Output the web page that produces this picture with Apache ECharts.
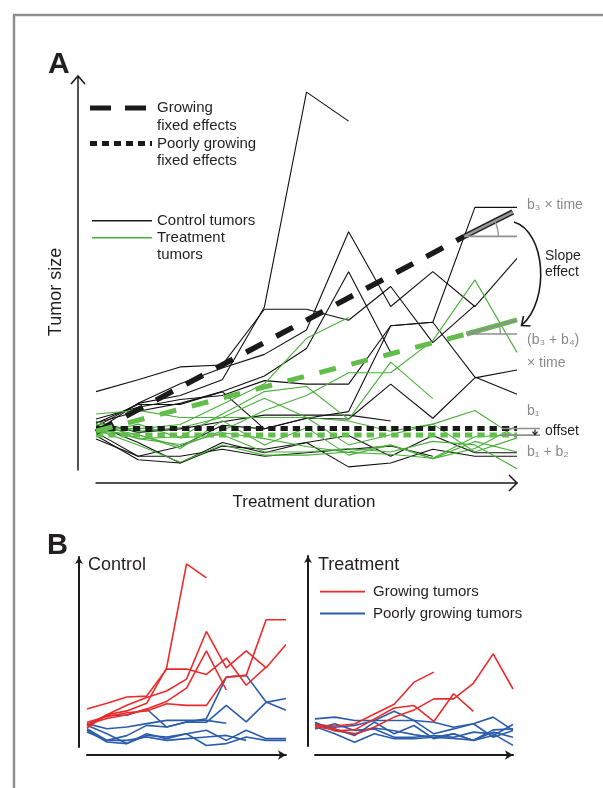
<!DOCTYPE html>
<html><head><meta charset="utf-8">
<script src="https://cdn.jsdelivr.net/npm/echarts@6/dist/echarts.min.js"></script>
<style>html,body{margin:0;padding:0;background:#fff}#c{width:603px;height:788px}</style>
</head><body><div id="c"></div>
<script>
// ---------- data (tumor size, arbitrary units 0-100, at 11 time points) ----------
const timePoints = [0,1,2,3,4,5,6,7,8,9,10];

// Control tumors (black in A), split into growing (red in B) / poorly growing (blue in B)
const ctrlGrowing1 = [11, 17, 19, 23, 41.6, 96.4, 89, null, null, null, null];
const ctrlGrowing2 = [13, 16, 18, 19, 22.8, 21.9, 21.9, 36.8, 37.7, 67, 67];
const ctrlGrowing3 = [10, 17, 22, 26, 29.5, 35.7, 60.8, 41.7, 50.6, 41.7, 54];
const ctrlGrowing4 = [12, 15, 17, 20, 24, 31, 50.6, 30, null, null, null];
const ctrlGrowing5 = [20, 23, 26.3, 26.8, 41, 41, 38.2, 46.8, 32.5, 42, null];
const ctrlPoor1 = [12.3, 9.6, 10.5, 12.3, 14, 14, 14, 12.5, null, null, null];
const ctrlPoor2 = [11.9, 16.7, 16.7, 20, 10.5, 13.2, 14.9, 36.8, 37.7, 23.7, 19.3];
const ctrlPoor3 = [9.6, 3.5, 6, 11.4, 10.5, 13.2, 13, 21.9, 13.2, 23.5, 25.5];
const ctrlPoor4 = [8.8, 2.6, 1.8, 6.1, 5.3, 7, 8.8, 3.5, 8.8, 4.4, 4.4];
const ctrlPoor5 = [11.4, 7, 1.8, 7, 4.4, 7, 0.8, 1.8, 5.3, 3.5, 3.5];
const ctrlPoor6 = [7.9, 3.5, 3.5, 5.3, 3.5, 4.4, 5.3, 6.1, 3.5, null, null];

// Treatment tumors (green in A)
const trtGrowing1 = [11, 10.5, 11.6, 16.8, 22, 33.6, 38.9, null, null, null, null];
const trtGrowing2 = [11, 8, 8.5, 14.3, 20, 21.3, 12.9, 27.5, 18.2, null, null];
const trtGrowing3 = [10, 9, 6, 10, 15.2, 19, 24.8, 24.8, 33, 48.5, 30];
const trtPoor1 = [14.3, 15.2, 13.4, 13.4, 13.4, 13.4, 12.5, 9.9, 11.7, 15.2, 8.2];
const trtPoor2 = [11.7, 9.9, 10.8, 13.4, 18.3, 13.4, 6.4, 9, 11.7, 4.6, 8.2];
const trtPoor3 = [11.3, 9, 5.5, 12.6, 6.4, 10.8, 3.8, 6.4, 2.9, 5.5, 11.3];
const trtPoor4 = [10.3, 6.4, 2, 6.4, 3.8, 3.8, 4.6, 6.4, 2.9, 7.3, 4.6];
const trtPoor5 = [9, 11.7, 8.2, 9, 4.6, 4.6, 5.5, 4.6, 7.3, 6.4, 0.3];
const trtPoor6 = [12.5, 8, 6.5, 9.5, 8, 6, 4.5, 4, 3, 8.5, 9];

// Fixed effects ([time, size] end points)
const growingFixedCtrl = [[0, 9.7], [8.75, 59.6]];
const growingSlopeCtrl = [[8.75, 59.6], [9.9, 65.8]];
const growingFixedTrt  = [[0, 9.9], [8.8, 34.7]];
const growingSlopeTrt  = [[8.8, 34.7], [10, 38.3]];
const poorFixedCtrl    = [[0, 10.6], [10, 10.6]];
const poorFixedTrt     = [[0, 8.9], [10, 8.9]];

const ctrlGrowing = [ctrlGrowing1, ctrlGrowing2, ctrlGrowing3, ctrlGrowing4, ctrlGrowing5];
const ctrlPoor = [ctrlPoor1, ctrlPoor2, ctrlPoor3, ctrlPoor4, ctrlPoor5, ctrlPoor6];
const trtGrowing = [trtGrowing1, trtGrowing2, trtGrowing3];
const trtPoor = [trtPoor1, trtPoor2, trtPoor3, trtPoor4, trtPoor5, trtPoor6];

// ---------- styling ----------
const FONT = '"Liberation Sans", Arial, Helvetica, sans-serif';
const TXT = '#231f20';
const GRAY = '#8a8a8a';
const BLACK = '#111111';
const GREEN = '#4aaf3a';
const GREEN_THICK = '#62bd4c';
const RED = '#ec2b2b';
const BLUE = '#2c5dab';

function toXY(arr) {
  const out = [];
  arr.forEach((v, i) => { if (v != null) out.push([timePoints[i], v]); });
  return out;
}
function lineSeries(arr, g, color, width, z, extra) {
  return Object.assign({
    type: 'line', xAxisIndex: g, yAxisIndex: g, data: toXY(arr),
    symbol: 'none', silent: true, animation: false, z: z || 2,
    lineStyle: { color: color, width: width }
  }, extra || {});
}
function segSeries(pts, g, lineStyle, z) {
  return { type: 'line', xAxisIndex: g, yAxisIndex: g, data: pts, symbol: 'none',
    silent: true, animation: false, z: z, lineStyle: lineStyle };
}

const series = [];
// Panel A
ctrlGrowing.concat(ctrlPoor).forEach(a => series.push(lineSeries(a, 0, BLACK, 1.1, 2)));
trtGrowing.concat(trtPoor).forEach(a => series.push(lineSeries(a, 0, GREEN, 1.1, 3)));
series.push(segSeries(poorFixedCtrl, 0, { color: '#1a1a1a', width: 5, type: [7.3, 5] }, 6));
series.push(segSeries(poorFixedTrt, 0, { color: GREEN_THICK, width: 5, type: [7.3, 5] }, 6));
series.push(segSeries(growingFixedCtrl, 0, { color: '#1a1a1a', width: 5.5, type: [19, 15] }, 7));
series.push(segSeries(growingFixedTrt, 0, { color: GREEN_THICK, width: 5, type: [17, 16] }, 7));
// slope glyphs
series.push(segSeries(growingSlopeCtrl, 0, { color: '#222', width: 5.5 }, 8));
series.push(segSeries(growingSlopeCtrl, 0, { color: '#9a9a9a', width: 2.5 }, 9));
series.push(segSeries(growingSlopeTrt, 0, { color: GREEN_THICK, width: 5 }, 8));
series.push(segSeries(growingSlopeTrt, 0, { color: '#8f8f8f', width: 2 }, 9));
// Panel B control
ctrlPoor.forEach(a => series.push(lineSeries(a, 1, BLUE, 1.6, 2)));
ctrlGrowing.forEach(a => series.push(lineSeries(a, 1, RED, 1.6, 3)));
// Panel B treatment
trtPoor.forEach(a => series.push(lineSeries(a, 2, BLUE, 1.6, 2)));
trtGrowing.forEach(a => series.push(lineSeries(a, 2, RED, 1.6, 3)));

function xAx(g, offset, arrow) {
  return { gridIndex: g, type: 'value', min: 0, max: 10, offset: offset,
    axisLine: { show: true, onZero: false, lineStyle: { color: '#1a1a1a', width: arrow ? 2 : 1.5 },
      symbol: arrow ? ['none', 'arrow'] : ['none', 'none'], symbolSize: [7, 8] },
    axisTick: { show: false }, axisLabel: { show: false }, splitLine: { show: false } };
}
function yAx(g, offset, arrow) {
  return { gridIndex: g, type: 'value', min: 0, max: 100, offset: offset,
    axisLine: { show: true, onZero: false, lineStyle: { color: '#1a1a1a', width: arrow ? 2 : 1.5 },
      symbol: arrow ? ['none', 'arrow'] : ['none', 'none'], symbolSize: [6, 7] },
    axisTick: { show: false }, axisLabel: { show: false }, splitLine: { show: false } };
}

const chart = echarts.init(document.getElementById('c'));
chart.setOption({
  animation: false,
  backgroundColor: '#fff',
  grid: [
    { left: 96, top: 78, width: 421, height: 392 },
    { left: 87, top: 557, width: 199, height: 190 },
    { left: 315, top: 556, width: 198, height: 190 }
  ],
  xAxis: [xAx(0, 13, false), xAx(1, 8, true), xAx(2, 9, true)],
  yAxis: [yAx(0, 18, false), yAx(1, 8, true), yAx(2, 7, true)],
  series: series
});

// ---------- annotations ----------
const P = (g, p) => chart.convertToPixel({ gridIndex: g }, p);
function txt(x, y, text, o) {
  o = o || {};
  return { type: 'text', x: x, y: y, z: 50, rotation: o.rotation || 0,
    style: { text: text, fill: o.fill || TXT, font: (o.weight || 'normal') + ' ' + (o.size || 15) + 'px ' + FONT,
      align: o.align || 'left', verticalAlign: o.va || 'middle' } };
}
function ln(x1, y1, x2, y2, stroke, w, dash) {
  return { type: 'line', z: 50, shape: { x1: x1, y1: y1, x2: x2, y2: y2 },
    style: { stroke: stroke, lineWidth: w, lineDash: dash || null } };
}
function pl(points, stroke, w) {
  return { type: 'polyline', z: 50, shape: { points: points }, style: { stroke: stroke, lineWidth: w, fill: null } };
}

const g = [];
// frame
g.push(ln(14, 15, 14, 788, '#8f8f8f', 2.5));
g.push(ln(13, 15, 603, 15, '#8f8f8f', 2.5));
// panel letters
g.push(txt(48, 65, 'A', { weight: 'bold', size: 30 }));
g.push(txt(47, 546, 'B', { weight: 'bold', size: 29 }));
// Panel A axis arrows (open chevrons)
const a0 = P(0, [0, 0]), a1 = P(0, [10, 100]);
const yAxX = a0[0] - 18, xAxY = a0[1] + 13;
g.push(ln(yAxX, a1[1], yAxX, a1[1] - 2, '#1a1a1a', 1.5));
g.push(pl([[yAxX - 7, a1[1] + 6], [yAxX, a1[1] - 2], [yAxX + 7, a1[1] + 6]], '#1a1a1a', 1.5));
g.push(pl([[a1[0] - 8, xAxY - 8], [a1[0], xAxY], [a1[0] - 8, xAxY + 8]], '#1a1a1a', 1.5));
// axis titles
g.push(txt(56, 292, 'Tumor size', { size: 18, align: 'center', rotation: Math.PI / 2 }));
g.push(txt(304, 502, 'Treatment duration', { size: 17, align: 'center' }));
// Panel A legend
g.push(ln(90, 108, 147, 108, '#1a1a1a', 5, [21, 14]));
g.push(txt(157, 108, 'Growing'));
g.push(txt(157, 126, 'fixed effects'));
g.push(ln(90, 143.5, 152, 143.5, '#1a1a1a', 5, [7, 5]));
g.push(txt(157, 143.5, 'Poorly growing'));
g.push(txt(157, 161, 'fixed effects'));
g.push(ln(92, 220.7, 152, 220.7, '#1a1a1a', 1.6));
g.push(txt(157, 220.7, 'Control tumors'));
g.push(ln(92, 237.7, 152, 237.7, GREEN, 1.6));
g.push(txt(157, 237.7, 'Treatment'));
g.push(txt(157, 255, 'tumors'));

// slope glyph helpers: horizontal reference lines + angle arcs
function glyph(seg) {
  const s = P(0, seg[0]), e = P(0, seg[1]), r = P(0, [10, seg[0][1]]);
  g.push(ln(s[0], s[1], r[0], s[1], '#8f8f8f', 1.6));
  const ang = Math.atan2(e[1] - s[1], e[0] - s[0]);
  g.push({ type: 'arc', z: 50, shape: { cx: s[0], cy: s[1], r: 34, startAngle: ang, endAngle: 0, clockwise: true },
    style: { stroke: '#8f8f8f', lineWidth: 1.3, fill: null } });
}
glyph(growingSlopeCtrl);
glyph(growingSlopeTrt);

// curved "slope effect" arrow
g.push({ type: 'bezierCurve', z: 50, shape: { x1: 514, y1: 222, cpx1: 546, cpy1: 232, cpx2: 550, cpy2: 300, x2: 522, y2: 325 },
  style: { stroke: '#1a1a1a', lineWidth: 1.6, fill: null } });
g.push(pl([[523.5, 316], [521.5, 325.5], [530.5, 326]], '#1a1a1a', 1.6));

// offset marker
const oc = P(0, poorFixedCtrl[1]), ot = P(0, poorFixedTrt[1]);
g.push(ln(oc[0] - 15, oc[1], oc[0] + 23, oc[1], '#8f8f8f', 1.6));
g.push(ln(ot[0] - 15, ot[1], ot[0] + 23, ot[1], '#8f8f8f', 1.6));
g.push(ln(535, oc[1] + 1, 535, ot[1] - 0.5, '#1a1a1a', 1.2));
g.push(pl([[532.5, ot[1] - 3.5], [535, ot[1] - 0.5], [537.5, ot[1] - 3.5]], '#1a1a1a', 1.2));

// right-side labels
g.push(txt(527, 205, 'b₃ × time', { fill: GRAY, size: 14 }));
g.push(txt(545, 256, 'Slope', { size: 14 }));
g.push(txt(545, 272, 'effect', { size: 14 }));
g.push(txt(527, 340, '(b₃ + b₄)', { fill: GRAY, size: 14 }));
g.push(txt(527, 363, '× time', { fill: GRAY, size: 14 }));
g.push(txt(527, 411, 'b₁', { fill: GRAY, size: 14 }));
g.push(txt(545, 431, 'offset', { size: 14 }));
g.push(txt(527, 452, 'b₁ + b₂', { fill: GRAY, size: 14 }));

// Panel B titles and legend
g.push(txt(88, 565, 'Control', { size: 18 }));
g.push(txt(318, 565, 'Treatment', { size: 18 }));
g.push(ln(320, 591.7, 365, 591.7, RED, 1.8));
g.push(txt(373, 591.7, 'Growing tumors'));
g.push(ln(320, 613.5, 365, 613.5, BLUE, 1.8));
g.push(txt(373, 613.5, 'Poorly growing tumors'));

chart.setOption({ graphic: { elements: g } });
</script>
</body></html>
